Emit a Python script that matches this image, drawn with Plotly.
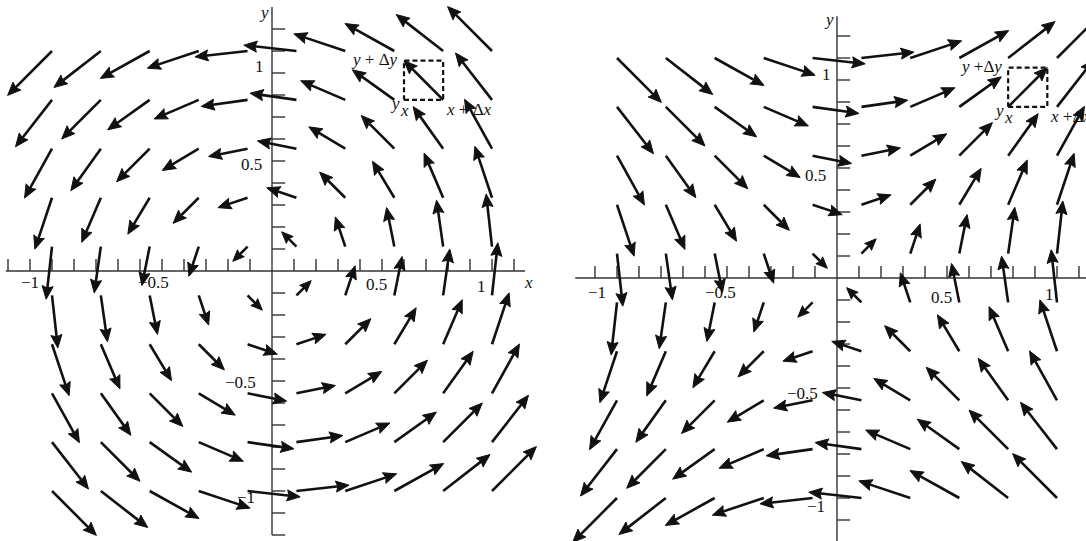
import math
import plotly.graph_objects as go

# ---- data -------------------------------------------------------------
# grid points (tail of every arrow)
GRID_X = [-1.0, -0.778, -0.556, -0.333, -0.111, 0.111, 0.333, 0.556, 0.778, 1.0]
GRID_Y = [-1.0, -0.778, -0.556, -0.333, -0.111, 0.111, 0.333, 0.556, 0.778, 1.0]

# left field: F = (-y, x) (rotation); right field: F = (y, x)
def field_left(x, y):
    return -y, x

def field_right(x, y):
    return y, x

# tick marks along the axes
LEFT_XTICKS = [-1.2, -1.1, -1.0, -0.9, -0.8, -0.7, -0.6, -0.5, -0.4, -0.3, -0.2, -0.1,
               0.1, 0.2, 0.3, 0.4, 0.5, 0.6, 0.7, 0.8, 0.9, 1.0, 1.1]
LEFT_YTICKS = [-1.2, -1.1, -1.0, -0.9, -0.8, -0.7, -0.6, -0.5, -0.4, -0.3, -0.2, -0.1,
               0.1, 0.2, 0.3, 0.4, 0.5, 0.6, 0.7, 0.8, 0.9, 1.0, 1.1]
RIGHT_XTICKS = [-1.1, -1.0, -0.9, -0.8, -0.7, -0.6, -0.5, -0.4, -0.3, -0.2, -0.1,
                0.1, 0.2, 0.3, 0.4, 0.5, 0.6, 0.7, 0.8, 0.9, 1.0, 1.1]
RIGHT_YTICKS = [-1.1, -1.0, -0.9, -0.8, -0.7, -0.6, -0.5, -0.4, -0.3, -0.2, -0.1,
                0.1, 0.2, 0.3, 0.4, 0.5, 0.6, 0.7, 0.8, 0.9, 1.0, 1.1]

# tick labels (text, x, y)
LEFT_XLABELS = [("−1", -1.10, -0.05), ("−0.5", -0.54, -0.05), ("0.5", 0.477, -0.06),
                ("1", 0.95, -0.07)]
LEFT_YLABELS = [("1", -0.055, 0.93), ("0.5", -0.095, 0.486), ("−0.5", -0.145, -0.505),
                ("−1", -0.12, -1.03)]
RIGHT_XLABELS = [("−1", -1.09, -0.064), ("−0.5", -0.53, -0.064), ("0.5", 0.473, -0.09),
                 ("1", 0.964, -0.077)]
RIGHT_YLABELS = [("1", -0.05, 0.923), ("0.5", -0.10, 0.468), ("−0.5", -0.155, -0.523),
                 ("−1", -0.095, -1.04)]

BOX_POINT = (0.778, 0.778)   # grid point whose arrow is boxed

# ---- style ------------------------------------------------------------
SCALE = 0.24          # arrow length = SCALE * sqrt(|F|)
HEAD_LEN = 0.06
HEAD_W = 0.42
FONT = "Liberation Serif"
INK = "#111111"


def arrow_paths(field):
    sx, sy, hx, hy = [], [], [], []
    for x in GRID_X:
        for y in GRID_Y:
            u, v = field(x, y)
            m = math.hypot(u, v)
            if m == 0:
                continue
            L = SCALE * math.sqrt(m)
            ux, uy = u / m, v / m
            nx, ny = -uy, ux
            tx, ty = x + L * ux, y + L * uy
            h = min(HEAD_LEN, 0.55 * L)
            w = HEAD_W * h
            sx += [x, tx - 0.6 * h * ux, None]
            sy += [y, ty - 0.6 * h * uy, None]
            bx, by = tx - h * ux, ty - h * uy
            kx, ky = tx - 0.85 * h * ux, ty - 0.85 * h * uy
            hx += [tx, bx + w * nx, kx, bx - w * nx, tx, None]
            hy += [ty, by + w * ny, ky, by - w * ny, ty, None]
    return sx, sy, hx, hy


def axis_paths(xticks, yticks, xr, yr, tlen_x, tlen_y):
    lx = [xr[0], xr[1], None, 0, 0, None]
    ly = [0, 0, None, yr[0], yr[1], None]
    for t in xticks:
        lx += [t, t, None]
        ly += [0, tlen_x, None]
    for t in yticks:
        lx += [0, tlen_y, None]
        ly += [t, t, None]
    return lx, ly


fig = go.Figure()

panels = [
    ("x", "y", field_left, LEFT_XTICKS, LEFT_YTICKS, (-1.21, 1.15), (-1.2, 1.2),
     LEFT_XLABELS, LEFT_YLABELS, True),
    ("x2", "y2", field_right, RIGHT_XTICKS, RIGHT_YTICKS, (-1.19, 1.2), (-1.24, 1.19),
     RIGHT_XLABELS, RIGHT_YLABELS, False),
]

annotations = []
for xa, ya, field, xt, yt, xr, yr, xl, yl, is_left in panels:
    ax_x, ax_y = axis_paths(xt, yt, xr, yr, 0.055, 0.06)
    fig.add_trace(go.Scatter(x=ax_x, y=ax_y, mode="lines", xaxis=xa, yaxis=ya,
                             line=dict(color="#333333", width=1.4),
                             hoverinfo="skip", showlegend=False))
    sx, sy, hx, hy = arrow_paths(field)
    fig.add_trace(go.Scatter(x=sx, y=sy, mode="lines", xaxis=xa, yaxis=ya,
                             line=dict(color=INK, width=2.6),
                             hoverinfo="skip", showlegend=False))
    fig.add_trace(go.Scatter(x=hx, y=hy, mode="lines", fill="toself", xaxis=xa, yaxis=ya,
                             fillcolor=INK, line=dict(color=INK, width=1.0),
                             hoverinfo="skip", showlegend=False))

    # dashed box around the arrow at BOX_POINT
    bx0, by0 = BOX_POINT
    u, v = field(bx0, by0)
    m = math.hypot(u, v)
    L = SCALE * math.sqrt(m)
    ex, ey = bx0 + L * u / m, by0 + L * v / m
    xlo, xhi = min(bx0, ex), max(bx0, ex)
    ylo, yhi = min(by0, ey), max(by0, ey)
    fig.add_trace(go.Scatter(x=[xlo, xhi, xhi, xlo, xlo], y=[ylo, ylo, yhi, yhi, ylo],
                             mode="lines", xaxis=xa, yaxis=ya,
                             line=dict(color=INK, width=2.2, dash="5px,3px"),
                             hoverinfo="skip", showlegend=False))

    tf = dict(family=FONT, size=17, color=INK)
    for txt, x, y in xl + yl:
        annotations.append(dict(x=x, y=y, xref=xa, yref=ya, text=txt, showarrow=False,
                                font=tf, xanchor="center", yanchor="middle"))
    # axis names
    annotations.append(dict(x=-0.035, y=1.175, xref=xa, yref=ya, text="<i>y</i>",
                            showarrow=False, font=tf, xanchor="center", yanchor="middle"))
    if is_left:
        annotations.append(dict(x=1.164, y=-0.05, xref=xa, yref=ya, text="<i>x</i>",
                                showarrow=False, font=tf, xanchor="center", yanchor="middle"))
        ytxt, xtxt = "<i>y</i> + Δ<i>y</i>", "<i>x</i> + Δ<i>x</i>"
    else:
        ytxt, xtxt = "<i>y</i> +Δ<i>y</i>", "<i>x</i> +Δ<i>x</i>"
    annotations += [
        dict(x=xlo - 0.02, y=yhi + 0.005, xref=xa, yref=ya, text=ytxt, showarrow=False,
             font=tf, xanchor="right", yanchor="middle"),
        dict(x=xlo - 0.04, y=ylo - 0.015, xref=xa, yref=ya, text="<i>y</i>", showarrow=False,
             font=tf, xanchor="center", yanchor="middle"),
        dict(x=xlo + 0.0, y=ylo - 0.05, xref=xa, yref=ya, text="<i>x</i>", showarrow=False,
             font=tf, xanchor="center", yanchor="middle"),
        dict(x=xhi + 0.005, y=ylo - 0.045, xref=xa, yref=ya, text=xtxt, showarrow=False,
             font=tf, xanchor="left", yanchor="middle"),
    ]

S = 220.0
ax_common = dict(visible=False, showgrid=False, zeroline=False, fixedrange=True)
fig.update_layout(
    width=1086, height=541,
    margin=dict(l=0, r=0, t=0, b=0),
    paper_bgcolor="white", plot_bgcolor="white",
    showlegend=False,
    xaxis=dict(domain=[0, 0.5], range=[-272 / S, 271 / S], **ax_common),
    yaxis=dict(domain=[0, 1], range=[-270 / S, 271 / S], **ax_common),
    xaxis2=dict(domain=[0.5, 1], range=[-294 / S, 249 / S], **ax_common),
    yaxis2=dict(domain=[0, 1], range=[-263 / S, 278 / S], **ax_common),
    annotations=annotations,
)

fig.write_html("out.html", config={"displayModeBar": False},
               post_script="document.body.style.margin='0';document.body.style.overflow='hidden';")
